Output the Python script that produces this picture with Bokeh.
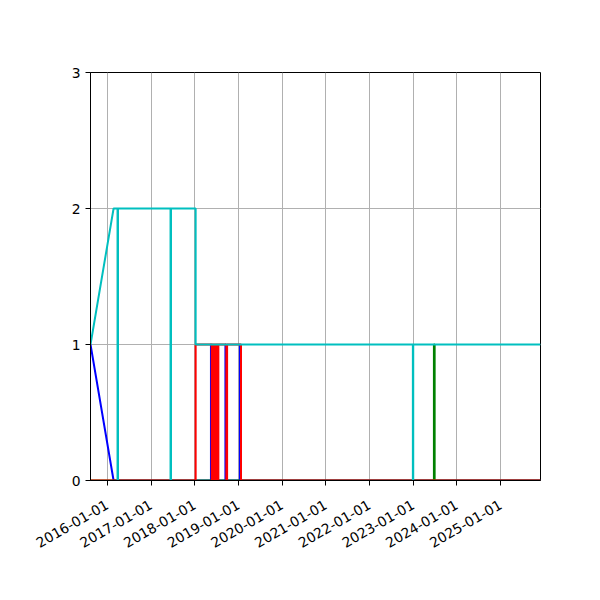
import math
import pandas as pd
from bokeh.plotting import figure
from bokeh.models import Range1d, FixedTicker, DatetimeTickFormatter
from bokeh.embed import file_html
from bokeh.resources import INLINE

# ---- data ----
START = "2015-08-14"
END = "2025-12-01"

blue_dates = [START, "2016-02-23", "2018-05-17", "2018-05-17", "2018-05-18", "2018-05-18",
              "2018-09-15", "2018-09-15", "2018-09-16", "2018-09-16",
              "2019-01-14", "2019-01-14", "2019-01-15", "2019-01-15", END]
blue_vals = [1, 0, 0, 1, 1, 0, 0, 1, 1, 0, 0, 1, 1, 0, 0]

green_dates = [START, "2023-06-24", "2023-06-24", "2023-06-30", "2023-06-30", END]
green_vals = [0, 0, 1, 1, 0, 0]

red_dates = [START, "2018-01-09", "2018-01-09",
             "2018-05-24", "2018-05-24", "2018-05-29", "2018-05-29", "2018-06-03", "2018-06-03",
             "2018-06-08", "2018-06-08", "2018-06-13", "2018-06-13", "2018-06-18", "2018-06-18",
             "2018-06-23", "2018-06-23", "2018-06-28", "2018-06-28", "2018-07-03", "2018-07-03",
             "2018-07-08", "2018-07-08", "2018-07-13", "2018-07-13", "2018-07-18", "2018-07-18",
             "2018-07-24", "2018-07-24",
             "2018-09-23", "2018-09-23", "2018-09-29", "2018-09-29",
             "2019-01-23", "2019-01-23", END]
red_vals = [0, 0, 1,
            1, 0, 0, 1, 1, 0,
            0, 1, 1, 0, 0, 1,
            1, 0, 0, 1, 1, 0,
            0, 1, 1, 0, 0, 1,
            1, 1,
            1, 0, 0, 1,
            1, 0, 0]

cyan_dates = [START, "2016-02-23",
              "2016-03-27", "2016-03-27", "2016-03-31", "2016-03-31",
              "2017-06-13", "2017-06-13", "2017-06-17", "2017-06-17",
              "2018-01-09", "2018-01-09",
              "2022-12-30", "2022-12-30", "2023-01-02", "2023-01-02", END]
cyan_vals = [1, 2,
             2, 0, 0, 2,
             2, 0, 0, 2,
             2, 1,
             1, 0, 0, 1, 1]

tick_years = ["2016-01-01", "2017-01-01", "2018-01-01", "2019-01-01", "2020-01-01",
              "2021-01-01", "2022-01-01", "2023-01-01", "2024-01-01", "2025-01-01"]
y_ticks = [0, 1, 2, 3]

def ts(lst):
    return pd.to_datetime(lst)

p = figure(width=592, height=592, x_axis_type="datetime",
           output_backend="svg", toolbar_location=None,
           min_border_left=90, min_border_right=52, min_border_top=72, min_border_bottom=112,
           x_range=Range1d(pd.Timestamp(START), pd.Timestamp(END)),
           y_range=Range1d(0, 3))

series = [(blue_dates, blue_vals, "blue"), (green_dates, green_vals, "green"),
          (red_dates, red_vals, "red"), (cyan_dates, cyan_vals, "#00bfbf")]
for d, v, c in series:
    p.line(ts(d), v, line_color=c, line_width=2)

tick_ms = [pd.Timestamp(t).value / 1e6 for t in tick_years]
p.xaxis.ticker = FixedTicker(ticks=tick_ms)
fmt = "%Y-%m-%d"
p.xaxis.formatter = DatetimeTickFormatter(microseconds=fmt, milliseconds=fmt, seconds=fmt,
                                          minsec=fmt, minutes=fmt, hourmin=fmt, hours=fmt,
                                          days=fmt, months=fmt, years=fmt)
p.yaxis.ticker = FixedTicker(ticks=y_ticks)
p.xaxis.major_label_orientation = math.pi / 6

for ax in (p.xaxis, p.yaxis):
    ax.major_label_text_font = "DejaVu Sans"
    ax.major_label_text_font_size = "13.9px"
    ax.major_label_text_color = "black"
    ax.axis_line_color = "black"
    ax.major_tick_line_color = "black"
    ax.major_tick_out = 5
    ax.major_tick_in = 0
    ax.minor_tick_line_color = None
p.yaxis.major_label_standoff = 5
p.xaxis.major_label_standoff = 18

p.grid.grid_line_color = "#b0b0b0"
p.grid.grid_line_width = 1
p.outline_line_color = "black"
p.outline_line_width = 1
p.outline_line_alpha = 1
p.background_fill_color = "white"
p.border_fill_color = "white"

open("out.html", "w").write(file_html(p, INLINE))
